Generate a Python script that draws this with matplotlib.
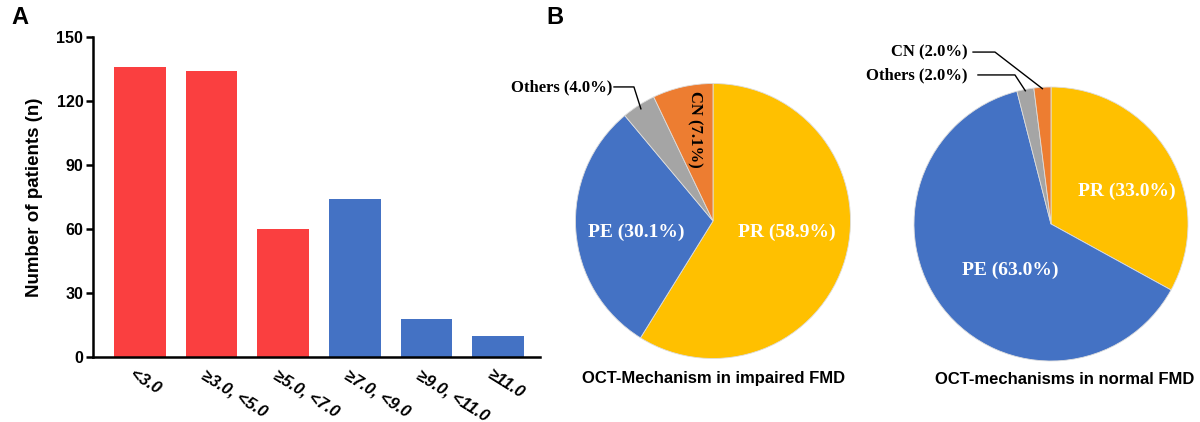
import matplotlib
matplotlib.use("Agg")
import matplotlib.pyplot as plt
import matplotlib.transforms as mtransforms
import numpy as np

# panel A data
fmd_bins = ["<3.0", "≥3.0, <5.0", "≥5.0, <7.0", "≥7.0, <9.0", "≥9.0, <11.0", "≥11.0"]
n_patients = [136, 134, 60, 74, 18, 10]
impaired = [True, True, True, False, False, False]

# panel B data (clockwise from 12 o'clock)
mech_names = ["PR", "PE", "Others", "CN"]
impaired_pct = [58.9, 30.1, 4.0, 7.1]
normal_pct = [33.0, 63.0, 2.0, 2.0]

RED = "#FA3F40"
BLUE = "#4472C4"
pie_colors = ["#FFC000", "#4472C4", "#A5A5A5", "#ED7D31"]

W, H = 1200, 422
fig = plt.figure(figsize=(12, 4.22), dpi=100)
sans = "Liberation Sans"
serif = "Liberation Serif"


def px_axes(x0, y0, x1, y1):
    # pixel box (top-left origin) -> figure axes
    return fig.add_axes([x0 / W, (H - y1) / H, (x1 - x0) / W, (y1 - y0) / H])


# ---------------- panel A ----------------
ax = px_axes(93, 37, 540, 357)
x = np.arange(len(fmd_bins))
ax.bar(x, n_patients, width=0.72, color=[RED if i else BLUE for i in impaired])
ax.set_xlim(-0.66, 5.59)
ax.set_ylim(0, 150)
ax.set_yticks([0, 30, 60, 90, 120, 150])
for s in ["top", "right"]:
    ax.spines[s].set_visible(False)
for s in ["left", "bottom"]:
    ax.spines[s].set_linewidth(1.8)
ax.tick_params(axis="y", length=5, width=1.8, labelsize=11.5, pad=2)
ax.tick_params(axis="x", length=0, pad=12)
for lab in ax.get_yticklabels():
    lab.set_fontweight("bold")
    lab.set_fontfamily(sans)
ax.set_xticks(x)
ax.set_xticklabels(fmd_bins, rotation=-32, ha="left", va="center",
                   rotation_mode="anchor", fontsize=12, fontweight="bold",
                   fontstyle="italic", family=sans)
offset = mtransforms.ScaledTranslation(-9 / 100, 0, fig.dpi_scale_trans)
for lab in ax.get_xticklabels():
    lab.set_transform(lab.get_transform() + offset)
ax.set_ylabel("Number of patients (n)", fontsize=13.5, fontweight="bold",
              family=sans, labelpad=10)

fig.text(20 / W, 1 - 18 / H, "A", fontsize=17, fontweight="bold", family=sans,
         ha="center", va="center")
fig.text(555 / W, 1 - 18 / H, "B", fontsize=17, fontweight="bold", family=sans,
         ha="center", va="center")


# ---------------- panel B ----------------
def draw_pie(cx, cy, r, values):
    pax = px_axes(cx - r, cy - r, cx + r, cy + r)
    wedges, _ = pax.pie(values, colors=pie_colors, startangle=90, counterclock=False,
                        radius=1, wedgeprops=dict(edgecolor="#dddddd", linewidth=0.6))
    pax.set_xlim(-1, 1)
    pax.set_ylim(-1, 1)
    pax.set_aspect("equal")
    pax.axis("off")
    mids = []
    for w in wedges:
        mids.append(np.deg2rad((w.theta1 + w.theta2) / 2))
    return pax, mids


def pct_label(name, v):
    return f"{name} ({v:.1f}%)"


# impaired FMD
p1, mid1 = draw_pie(713, 221, 137.5, impaired_pct)
p1.text(0.54, -0.08, pct_label(mech_names[0], impaired_pct[0]), color="white",
        fontsize=14, fontweight="bold", family=serif, ha="center", va="center")
p1.text(-0.56, -0.08, pct_label(mech_names[1], impaired_pct[1]), color="white",
        fontsize=14, fontweight="bold", family=serif, ha="center", va="center")
a = mid1[3]
p1.text(0.68 * np.cos(a) + 0.02, 0.68 * np.sin(a), pct_label(mech_names[3], impaired_pct[3]),
        color="black", fontsize=12, fontweight="bold", family=serif,
        ha="center", va="center", rotation=-90)
a = mid1[2]
p1.plot([-0.72, -0.575, 0.97 * np.cos(a)], [0.975, 0.975, 0.97 * np.sin(a)],
        color="black", lw=1, clip_on=False)
p1.text(-0.735, 0.975, pct_label(mech_names[2], impaired_pct[2]), fontsize=12,
        fontweight="bold", family=serif, ha="right", va="center")
fig.text(714 / W, 1 - 379 / H, "OCT-Mechanism in impaired FMD", fontsize=12,
         fontweight="bold", family=sans, ha="center", va="center")

# normal FMD
p2, mid2 = draw_pie(1051, 224, 137, normal_pct)
p2.text(0.555, 0.236, pct_label(mech_names[0], normal_pct[0]), color="white",
        fontsize=14, fontweight="bold", family=serif, ha="center", va="center")
p2.text(-0.30, -0.336, pct_label(mech_names[1], normal_pct[1]), color="white",
        fontsize=14, fontweight="bold", family=serif, ha="center", va="center")
a = mid2[3]
p2.plot([-0.569, -0.409, np.cos(a)], [1.255, 1.255, np.sin(a) * 0.99],
        color="black", lw=1, clip_on=False)
p2.text(-0.606, 1.255, pct_label(mech_names[3], normal_pct[3]), fontsize=12,
        fontweight="bold", family=serif, ha="right", va="center")
a = mid2[2]
p2.plot([-0.533, -0.263, np.cos(a)], [1.088, 1.088, np.sin(a) * 0.99],
        color="black", lw=1, clip_on=False)
p2.text(-0.606, 1.088, pct_label(mech_names[2], normal_pct[2]), fontsize=12,
        fontweight="bold", family=serif, ha="right", va="center")
fig.text(1065 / W, 1 - 379 / H, "OCT-mechanisms in normal FMD", fontsize=12,
         fontweight="bold", family=sans, ha="center", va="center")

fig.savefig("out.png", dpi=100)
